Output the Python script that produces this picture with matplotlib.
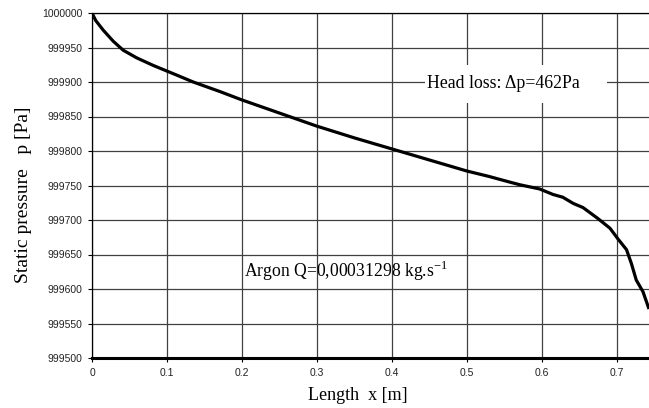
from matplotlib import pyplot as plt
from matplotlib.patches import Rectangle

plt.rcParams['figure.dpi'] = 100
plt.rcParams['font.size'] = 8

# static pressure along the pipe
x = [0.0, 0.005, 0.0151, 0.0284, 0.0417, 0.0596, 0.0817, 0.113, 0.135, 0.171,
     0.2, 0.25, 0.3, 0.35, 0.4, 0.45, 0.5, 0.53, 0.557, 0.571, 0.597, 0.615,
     0.628, 0.642, 0.655, 0.675, 0.691, 0.702, 0.713, 0.7195, 0.726, 0.735,
     0.743]
p = [1000000, 999989, 999975, 999959, 999946, 999935, 999924, 999910, 999900,
     999886, 999874, 999855, 999836, 999819, 999803, 999787, 999771, 999763,
     999755, 999751, 999745, 999737, 999733, 999724, 999718, 999702, 999688,
     999672, 999657, 999637, 999613, 999596, 999571]

xticks = [0, 0.1, 0.2, 0.3, 0.4, 0.5, 0.6, 0.7]
yticks = list(range(999500, 1000001, 50))

fig = plt.figure(figsize=(6.49, 4.08))
ax = fig.add_axes([92/649, 1-358/408, 1-92/649, 345/408])

ax.plot(x, p, color='black', lw=2.3, solid_capstyle='butt',
        solid_joinstyle='round', zorder=3)

ax.set_xlim(0, 0.743)
ax.set_ylim(999500, 1000000)
ax.set_xticks(xticks)
ax.set_xticklabels(['0', '0.1', '0.2', '0.3', '0.4', '0.5', '0.6', '0.7'])
ax.set_yticks(yticks)
ax.set_yticklabels([str(v) for v in yticks])
ax.grid(True, color='0.25', lw=0.9)
ax.set_axisbelow(True)
ax.tick_params(direction='out', length=3, width=0.8, labelsize=7.5,
               colors='black', pad=4)
for lbl in ax.get_xticklabels() + ax.get_yticklabels():
    lbl.set_family('Liberation Sans')
    lbl.set_color('#222222')

ax.spines['right'].set_visible(False)
ax.spines['top'].set_linewidth(0.9)
ax.spines['left'].set_linewidth(0.9)
ax.spines['bottom'].set_linewidth(2.2)

serif = 'Liberation Serif'
ax.set_xlabel('Length  x [m]', family=serif, fontsize=13, labelpad=5)
ax.xaxis.set_label_coords(0.4776, -0.085)
ax.set_ylabel('Static pressure   p [Pa]', family=serif, fontsize=14, labelpad=7)
ax.yaxis.label.set_y(0.472)

# white text box behind the head loss note
ax.add_patch(Rectangle((0.444, 999869.6), 0.243, 55, facecolor='white',
                       edgecolor='none', zorder=2))
ax.text(0.4467, 999898, 'Head loss: \u0394p=462Pa', family=serif, fontsize=12.8,
        ha='left', va='center', zorder=2.5)
ax.text(0.2027, 999626, 'Argon Q=0,00031298 kg.s$^{\\mathregular{-1}}$', family=serif,
        fontsize=12.7, ha='left', va='center', zorder=2.5)

fig.savefig('out.png', dpi=100)
